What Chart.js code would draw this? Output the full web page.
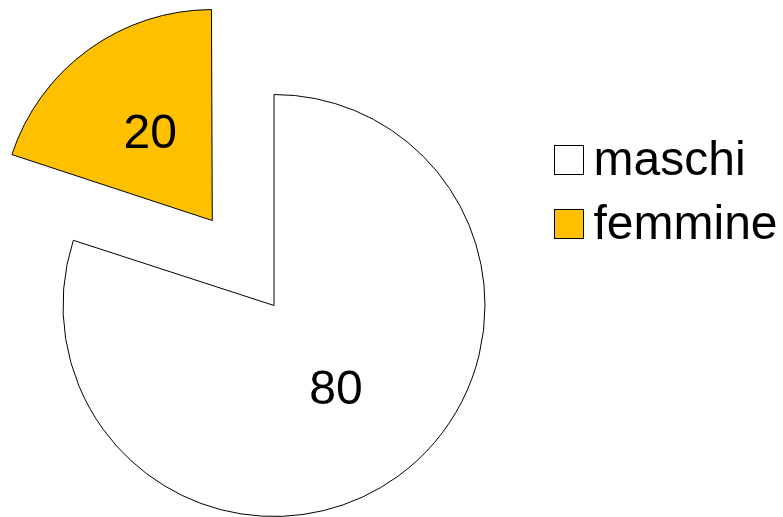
<!DOCTYPE html>
<html>
<head>
<meta charset="utf-8">
<script src="https://cdn.jsdelivr.net/npm/chart.js@4"></script>
<style>
  html, body { margin: 0; padding: 0; background: #fff; }
  canvas { display: block; }
</style>
</head>
<body>
<canvas id="pieChart" width="783" height="517"></canvas>
<script>
// Data
const labels = ['maschi', 'femmine'];
const values = [80, 20];
const colors = ['#FFFFFF', '#FFC000'];
const explode = [0, 420]; // chart.js offset, the slice moves by offset / 4

const FONT = '"Liberation Sans", Arial, Helvetica, sans-serif';

// chart.js also grows an offset slice a bit; keep the exploded slice the same size as the rest
const keepRadius = {
    id: 'keepRadius',
    afterDatasetsUpdate(chart) {
        chart.getDatasetMeta(0).data.forEach(arc => {
            const off = (arc.options.offset || 0) / 4;
            const fix = 1 - Math.sin(Math.min(Math.PI, arc.circumference));
            arc.outerRadius -= off * fix;
        });
    }
};

// value in the middle of each slice
const sliceLabels = {
    id: 'sliceLabels',
    afterDatasetsDraw(chart) {
        const ctx = chart.ctx;
        const meta = chart.getDatasetMeta(0);
        ctx.save();
        ctx.font = '48px ' + FONT;
        ctx.fillStyle = '#000';
        ctx.textAlign = 'center';
        ctx.textBaseline = 'middle';
        meta.data.forEach((arc, i) => {
            const mid = (arc.startAngle + arc.endAngle) / 2;
            const dist = (arc.options.offset || 0) / 4 + 211 / 2;
            ctx.fillText(values[i], arc.x + Math.cos(mid) * dist, arc.y + Math.sin(mid) * dist);
        });
        ctx.restore();
    }
};

// legend on the right (box close to the text)
const sideLegend = {
    id: 'sideLegend',
    afterDraw(chart) {
        const ctx = chart.ctx;
        const x = 554.5, y0 = 145.5, step = 64, box = 29;
        ctx.save();
        ctx.font = '48px ' + FONT;
        ctx.textBaseline = 'alphabetic';
        ctx.lineWidth = 1;
        ctx.strokeStyle = '#000';
        labels.forEach((text, i) => {
            const y = y0 + i * step;
            ctx.fillStyle = colors[i];
            ctx.fillRect(x, y, box, box);
            ctx.strokeRect(x, y, box, box);
            ctx.fillStyle = '#000';
            ctx.fillText(text, x + box + 10, y + box + 0.5);
        });
        ctx.restore();
    }
};

new Chart(document.getElementById('pieChart'), {
    type: 'pie',
    data: {
        labels: labels,
        datasets: [{
            data: values,
            backgroundColor: colors,
            borderColor: '#000',
            borderWidth: 1,
            offset: explode
        }]
    },
    options: {
        responsive: false,
        animation: false,
        events: [],
        radius: 211,
        layout: {padding: {left: 0, right: 235, top: 94, bottom: 0}},
        plugins: {
            legend: {display: false},
            tooltip: {enabled: false}
        }
    },
    plugins: [keepRadius, sliceLabels, sideLegend]
});
</script>
</body>
</html>
